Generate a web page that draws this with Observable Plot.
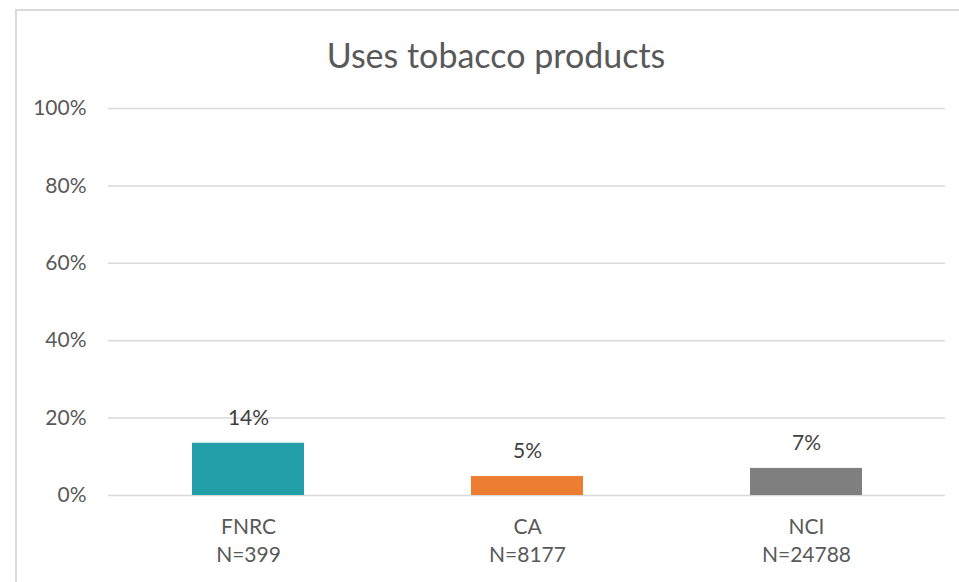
<!DOCTYPE html>
<html>
<head>
<meta charset="utf-8">
<script src="https://cdn.jsdelivr.net/npm/d3@7"></script>
<script src="https://cdn.jsdelivr.net/npm/@observablehq/plot@0.6"></script>
<style>
  html, body { margin: 0; padding: 0; background: #fff; }
  #wrap { position: relative; width: 959px; height: 582px; overflow: hidden; }
  #frame { position: absolute; left: 15px; top: 9px; width: 1000px; height: 1000px; border: 2px solid #d9d9d9; box-sizing: border-box; }
  #chart { position: absolute; left: 0; top: 0; }
</style>
</head>
<body>
<div id="wrap"><div id="frame"></div><div id="chart"></div></div>
<script>
const categories = ["FNRC", "CA", "NCI"];
const sampleSizes = ["N=399", "N=8177", "N=24788"];
const values = [0.135, 0.049, 0.07];
const labels = ["14%", "5%", "7%"];
const colors = ["#219ea8", "#ed7d31", "#7f7f7f"];
const title = "Uses tobacco products";

const data = categories.map((c, i) => ({cat: c, n: sampleSizes[i], v: values[i], label: labels[i]}));
const font = "Lato, 'Open Sans', sans-serif";
const textColor = "#595959";

const chart = Plot.plot({
  width: 959,
  height: 582,
  marginLeft: 108,
  marginRight: 14,
  marginTop: 108,
  marginBottom: 87,
  style: {fontFamily: font, fontSize: "21px", color: textColor, background: "transparent"},
  x: {domain: categories, paddingInner: 0.6, paddingOuter: 0.3, axis: null},
  y: {domain: [0, 1], label: null},
  color: {domain: categories, range: colors},
  marks: [
    Plot.gridY([0, 0.2, 0.4, 0.6, 0.8, 1], {stroke: "#d9d9d9", strokeOpacity: 1, strokeWidth: 1.5}),
    Plot.axisY({ticks: [0, 0.2, 0.4, 0.6, 0.8, 1], tickSize: 0, tickPadding: 22, tickFormat: d => Math.round(d * 100) + "%", label: null, fontSize: 21, fill: textColor}),
    Plot.barY(data, {x: "cat", y: "v", fill: "cat"}),
    Plot.text(data, {x: "cat", y: "v", text: "label", dy: -25, fontSize: 21, fill: "#404040"}),
    Plot.text(data, {x: "cat", text: d => d.cat + "\n" + d.n, frameAnchor: "bottom", lineAnchor: "top", dy: 18, lineHeight: 1.35, fontSize: 21, fill: textColor}),
    Plot.text([title], {text: d => d, frameAnchor: "top", lineAnchor: "middle", dx: -31, dy: -51, fontSize: 34, fill: textColor})
  ]
});
document.getElementById("chart").appendChild(chart);
</script>
</body>
</html>
